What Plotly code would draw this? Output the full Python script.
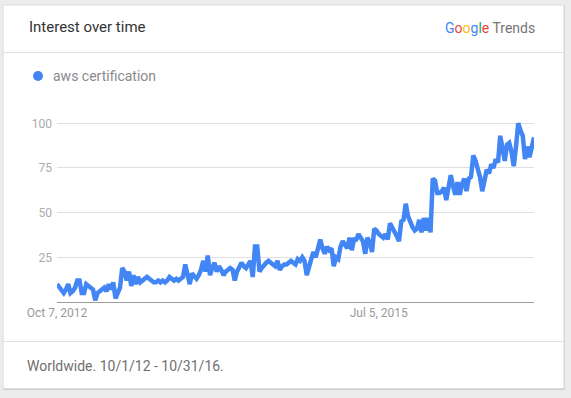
import pandas as pd
import plotly.graph_objects as go

W, H = 571, 398

# ---- data (weekly interest) ----
start_week = "2012-10-07"
interest = [
    10, 8, 7, 5, 7, 10, 5, 6, 8, 12,
    12, 5, 5, 10, 9, 8, 7, 1, 5, 6,
    7, 8, 6, 10, 7, 11, 2, 5, 8, 19,
    17, 12, 17, 9, 15, 10, 14, 11, 12, 13,
    14, 13, 12, 11, 11, 12, 11, 12, 11, 12,
    14, 13, 12, 13, 12, 13, 14, 21, 15, 10,
    16, 14, 13, 15, 18, 23, 17, 26, 15, 19,
    22, 17, 20, 18, 15, 17, 18, 19, 18, 12,
    17, 19, 22, 20, 19, 21, 23, 14, 31, 31,
    17, 19, 21, 22, 23, 22, 21, 20, 23, 18,
    20, 21, 21, 22, 23, 22, 21, 24, 23, 25,
    23, 15, 21, 24, 28, 25, 30, 35, 30, 27,
    31, 29, 30, 20, 25, 24, 31, 34, 32, 30,
    36, 29, 35, 35, 38, 36, 34, 27, 36, 33,
    28, 41, 40, 38, 37, 36, 38, 35, 44, 42,
    40, 37, 34, 45, 46, 55, 48, 44, 42, 40,
    41, 46, 39, 47, 40, 47, 39, 69, 68, 61,
    61, 62, 64, 57, 65, 71, 65, 60, 67, 60,
    66, 69, 62, 69, 70, 82, 79, 75, 70, 62,
    68, 74, 72, 77, 75, 80, 78, 93, 86, 79,
    88, 89, 84, 76, 87, 100, 96, 93, 80, 87,
    81, 86, 92,
]
weeks = pd.date_range(start_week, periods=len(interest), freq="7D")

series_name = "aws certification"
x_tick_vals = ["2012-10-07", "2015-07-05"]
x_tick_text = ["Oct 7, 2012", "Jul 5, 2015"]
y_tick_vals = [25, 50, 75, 100]
title_text = "Interest over time"
footer_text = "Worldwide. 10/1/12 - 10/31/16."

BLUE = "#4285F4"
FONT = "Roboto"

fig = go.Figure()
fig.add_trace(go.Scatter(
    x=weeks, y=interest, mode="lines", name=series_name,
    line=dict(color=BLUE, width=4.5, shape="linear"),
    hoverinfo="skip", showlegend=False,
))

# pixel helpers (paper coords == whole figure because margins are 0)
def px(x):
    return x / W

def py(y):
    return 1 - y / H

plot_l, plot_r, y0_px, ytop_px = 57, 534, 302, 118
ymax = 100 * (y0_px - ytop_px) / (y0_px - 123.3)

fig.update_layout(
    width=W, height=H,
    margin=dict(l=0, r=0, t=0, b=0, autoexpand=False),
    paper_bgcolor="#ececec",
    plot_bgcolor="rgba(0,0,0,0)",
    showlegend=False,
    font=dict(family=FONT),
    xaxis=dict(
        domain=[px(plot_l), px(plot_r)],
        range=[weeks[0], weeks[-1]],
        type="date", automargin=False,
        tickvals=x_tick_vals, ticktext=x_tick_text,
        showgrid=False, zeroline=False,
        showline=True, linecolor="#9e9e9e", linewidth=1,
        ticks="", tickfont=dict(size=12, color="#9a9a9a", family=FONT),
        fixedrange=True,
    ),
    yaxis=dict(
        domain=[py(y0_px), py(ytop_px)],
        range=[0, ymax], automargin=False,
        tickvals=y_tick_vals,
        showgrid=True, gridcolor="#e0e0e0", gridwidth=1,
        zeroline=False, showline=False,
        ticks="", tickfont=dict(size=12, color="#ababab", family=FONT),
        ticklabelstandoff=4,
        fixedrange=True,
    ),
)

shapes = [
    # card shadow
    dict(type="rect", xref="paper", yref="paper", layer="below",
         x0=px(3), x1=px(565), y0=py(390), y1=py(5),
         fillcolor="#cfcfcf", line=dict(width=0)),
    # card
    dict(type="rect", xref="paper", yref="paper", layer="below",
         x0=px(3), x1=px(564), y0=py(388.5), y1=py(5),
         fillcolor="#ffffff", line=dict(color="#dcdcdc", width=1)),
    # header divider
    dict(type="line", xref="paper", yref="paper", layer="below",
         x0=px(3.5), x1=px(563.5), y0=py(52.5), y1=py(52.5),
         line=dict(color="#e0e0e0", width=1)),
    # footer divider
    dict(type="line", xref="paper", yref="paper", layer="below",
         x0=px(3.5), x1=px(563.5), y0=py(341.5), y1=py(341.5),
         line=dict(color="#e0e0e0", width=1)),
    # legend dot
    dict(type="circle", xref="paper", yref="paper",
         x0=px(33), x1=px(43), y0=py(81), y1=py(71),
         fillcolor=BLUE, line=dict(width=0)),
]
fig.update_layout(shapes=shapes)

google = ("<span style='color:#4285F4'>G</span><span style='color:#EA4335'>o</span>"
          "<span style='color:#FBBC05'>o</span><span style='color:#4285F4'>g</span>"
          "<span style='color:#34A853'>l</span><span style='color:#EA4335'>e</span>")

annotations = [
    dict(text=title_text, x=px(27), y=py(27), xref="paper", yref="paper",
         xanchor="left", yanchor="middle", showarrow=False,
         font=dict(size=15, color="#333333", family=FONT)),
    dict(text=google + "<span style='color:#757575'> Trends</span>",
         x=px(537), y=py(28), xref="paper", yref="paper",
         xanchor="right", yanchor="middle", showarrow=False,
         font=dict(size=14, family=FONT)),
    dict(text=series_name, x=px(51), y=py(76), xref="paper", yref="paper",
         xanchor="left", yanchor="middle", showarrow=False,
         font=dict(size=14, color="#8a8a8a", family=FONT)),
    dict(text=footer_text, x=px(25), y=py(366), xref="paper", yref="paper",
         xanchor="left", yanchor="middle", showarrow=False,
         font=dict(size=14, color="#707070", family=FONT)),
]
fig.update_layout(annotations=annotations)

fig.write_html("out.html", config={"displayModeBar": False})
